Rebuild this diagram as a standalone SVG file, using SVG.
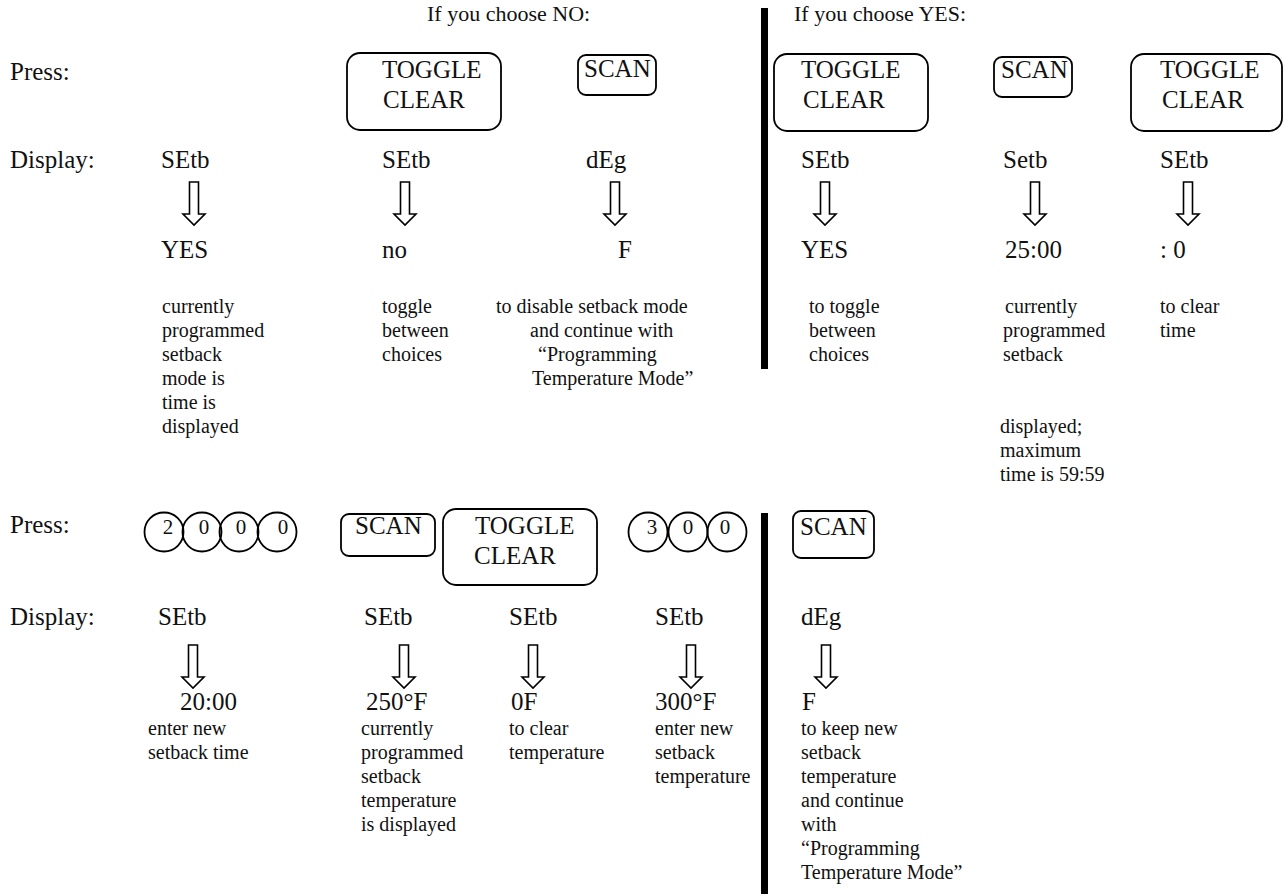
<svg xmlns="http://www.w3.org/2000/svg" xmlns:xlink="http://www.w3.org/1999/xlink" width="1285" height="894" viewBox="0 0 1285 894">
<style>
text{font-family:"Liberation Serif","Times New Roman",serif;fill:#111;}
.h{font-size:22px;}
.m{font-size:25px;}
.n{font-size:21px;}
.d{font-size:20px;}
.btn{fill:none;stroke:#000;stroke-width:1.8;}
.bar{fill:#000;}
.arr{fill:#fff;stroke:#000;stroke-width:1.6;stroke-linejoin:miter;}
</style>
<defs>
<path id="dn" class="arr" d="M-4.5,0 H4.5 V32 H11 L0,43 L-11,32 H-4.5 Z"/>
</defs>
<rect width="1285" height="894" fill="#fff"/>

<g id="headers">
<text class="h" x="427" y="21">If you choose NO:</text>
<text class="h" x="794" y="21">If you choose YES:</text>
</g>
<g id="dividers">
<rect class="bar" x="761" y="8" width="7" height="361"/>
<rect class="bar" x="761" y="513" width="7" height="381"/>
</g>
<g id="row-labels">
<text class="m" x="10" y="80">Press:</text>
<text class="m" x="10" y="168">Display:</text>
<text class="m" x="10" y="533">Press:</text>
<text class="m" x="10" y="625">Display:</text>
</g>

<!-- top buttons -->
<g id="btn-no-toggle">
<rect class="btn" x="347" y="53" width="154" height="77" rx="13"/>
<text class="m" x="382" y="78">TOGGLE</text>
<text class="m" x="383" y="108">CLEAR</text>
</g>
<g id="btn-no-scan">
<rect class="btn" x="578" y="55" width="78" height="40" rx="8"/>
<text class="m" x="584" y="77">SCAN</text>
</g>
<g id="btn-yes-toggle">
<rect class="btn" x="774" y="54" width="154" height="77" rx="13"/>
<text class="m" x="801" y="78">TOGGLE</text>
<text class="m" x="803" y="108">CLEAR</text>
</g>
<g id="btn-yes-scan">
<rect class="btn" x="994" y="57" width="78" height="40" rx="8"/>
<text class="m" x="1001" y="78">SCAN</text>
</g>
<g id="btn-yes-toggle2">
<rect class="btn" x="1131" y="54" width="151" height="77" rx="13"/>
<text class="m" x="1160" y="78">TOGGLE</text>
<text class="m" x="1162" y="108">CLEAR</text>
</g>

<!-- top display columns -->
<g id="col1">
<text class="m" x="161" y="168">SEtb</text>
<text class="m" x="161" y="258">YES</text>
<text class="d" x="162" y="313">currently</text>
<text class="d" x="162" y="337">programmed</text>
<text class="d" x="162" y="361">setback</text>
<text class="d" x="162" y="385">mode is</text>
<text class="d" x="162" y="409">time is</text>
<text class="d" x="162" y="433">displayed</text>
</g>
<g id="col2">
<text class="m" x="382" y="168">SEtb</text>
<text class="m" x="382" y="258">no</text>
<text class="d" x="382" y="313">toggle</text>
<text class="d" x="382" y="337">between</text>
<text class="d" x="382" y="361">choices</text>
</g>
<g id="col3">
<text class="m" x="586" y="168">dEg</text>
<text class="m" x="618" y="258">F</text>
<text class="d" x="496" y="313">to disable setback mode</text>
<text class="d" x="530" y="337">and continue with</text>
<text class="d" x="538" y="361">“Programming</text>
<text class="d" x="532" y="385">Temperature Mode”</text>
</g>
<g id="col4">
<text class="m" x="801" y="168">SEtb</text>
<text class="m" x="801" y="258">YES</text>
<text class="d" x="809" y="313">to toggle</text>
<text class="d" x="809" y="337">between</text>
<text class="d" x="809" y="361">choices</text>
</g>
<g id="col5">
<text class="m" x="1003" y="168">Setb</text>
<text class="m" x="1005" y="258">25:00</text>
<text class="d" x="1005" y="313">currently</text>
<text class="d" x="1003" y="337">programmed</text>
<text class="d" x="1003" y="361">setback</text>
<text class="d" x="1000" y="433">displayed;</text>
<text class="d" x="1000" y="457">maximum</text>
<text class="d" x="1000" y="481">time is 59:59</text>
</g>
<g id="col6">
<text class="m" x="1160" y="168">SEtb</text>
<text class="m" x="1160" y="258">: 0</text>
<text class="d" x="1160" y="313">to clear</text>
<text class="d" x="1160" y="337">time</text>
</g>

<!-- bottom buttons -->
<g id="btn-2000">
<circle class="btn" cx="164" cy="532" r="19.5"/>
<circle class="btn" cx="202" cy="532" r="19.5"/>
<circle class="btn" cx="239" cy="532" r="19.5"/>
<circle class="btn" cx="277" cy="532" r="19.5"/>
<text class="n" x="168" y="534" text-anchor="middle">2</text>
<text class="n" x="204" y="534" text-anchor="middle">0</text>
<text class="n" x="241" y="534" text-anchor="middle">0</text>
<text class="n" x="283" y="534" text-anchor="middle">0</text>
</g>
<g id="btn-scan-b1">
<rect class="btn" x="341" y="514" width="94" height="42" rx="8"/>
<text class="m" x="355" y="534">SCAN</text>
</g>
<g id="btn-toggle-b">
<rect class="btn" x="443" y="509" width="154" height="76" rx="13"/>
<text class="m" x="475" y="534">TOGGLE</text>
<text class="m" x="474" y="564">CLEAR</text>
</g>
<g id="btn-300">
<circle class="btn" cx="648" cy="532" r="19.5"/>
<circle class="btn" cx="688" cy="532" r="19.5"/>
<circle class="btn" cx="727" cy="532" r="19.5"/>
<text class="n" x="652" y="534" text-anchor="middle">3</text>
<text class="n" x="688" y="534" text-anchor="middle">0</text>
<text class="n" x="725" y="534" text-anchor="middle">0</text>
</g>
<g id="btn-scan-b2">
<rect class="btn" x="793" y="511" width="81" height="47" rx="8"/>
<text class="m" x="800" y="535">SCAN</text>
</g>

<!-- bottom display columns -->
<g id="bcol1">
<text class="m" x="158" y="625">SEtb</text>
<text class="m" x="180" y="710">20:00</text>
<text class="d" x="148" y="735">enter new</text>
<text class="d" x="148" y="759">setback time</text>
</g>
<g id="bcol2">
<text class="m" x="364" y="625">SEtb</text>
<text class="m" x="366" y="710">250°F</text>
<text class="d" x="361" y="735">currently</text>
<text class="d" x="361" y="759">programmed</text>
<text class="d" x="361" y="783">setback</text>
<text class="d" x="361" y="807">temperature</text>
<text class="d" x="361" y="831">is displayed</text>
</g>
<g id="bcol3">
<text class="m" x="509" y="625">SEtb</text>
<text class="m" x="511" y="710">0F</text>
<text class="d" x="509" y="735">to clear</text>
<text class="d" x="509" y="759">temperature</text>
</g>
<g id="bcol4">
<text class="m" x="655" y="625">SEtb</text>
<text class="m" x="655" y="710">300°F</text>
<text class="d" x="655" y="735">enter new</text>
<text class="d" x="655" y="759">setback</text>
<text class="d" x="655" y="783">temperature</text>
</g>
<g id="bcol5">
<text class="m" x="801" y="625">dEg</text>
<text class="m" x="802" y="710">F</text>
<text class="d" x="801" y="735">to keep new</text>
<text class="d" x="801" y="759">setback</text>
<text class="d" x="801" y="783">temperature</text>
<text class="d" x="801" y="807">and continue</text>
<text class="d" x="801" y="831">with</text>
<text class="d" x="801" y="855">“Programming</text>
<text class="d" x="801" y="879">Temperature Mode”</text>
</g>

<g id="connectors">
<use xlink:href="#dn" x="194" y="182"/>
<use xlink:href="#dn" x="405" y="182"/>
<use xlink:href="#dn" x="615" y="182"/>
<use xlink:href="#dn" x="825" y="182"/>
<use xlink:href="#dn" x="1035" y="182"/>
<use xlink:href="#dn" x="1188" y="182"/>
<use xlink:href="#dn" x="193" y="645"/>
<use xlink:href="#dn" x="404" y="645"/>
<use xlink:href="#dn" x="533" y="645"/>
<use xlink:href="#dn" x="691" y="645"/>
<use xlink:href="#dn" x="826" y="645"/>
</g>
</svg>
